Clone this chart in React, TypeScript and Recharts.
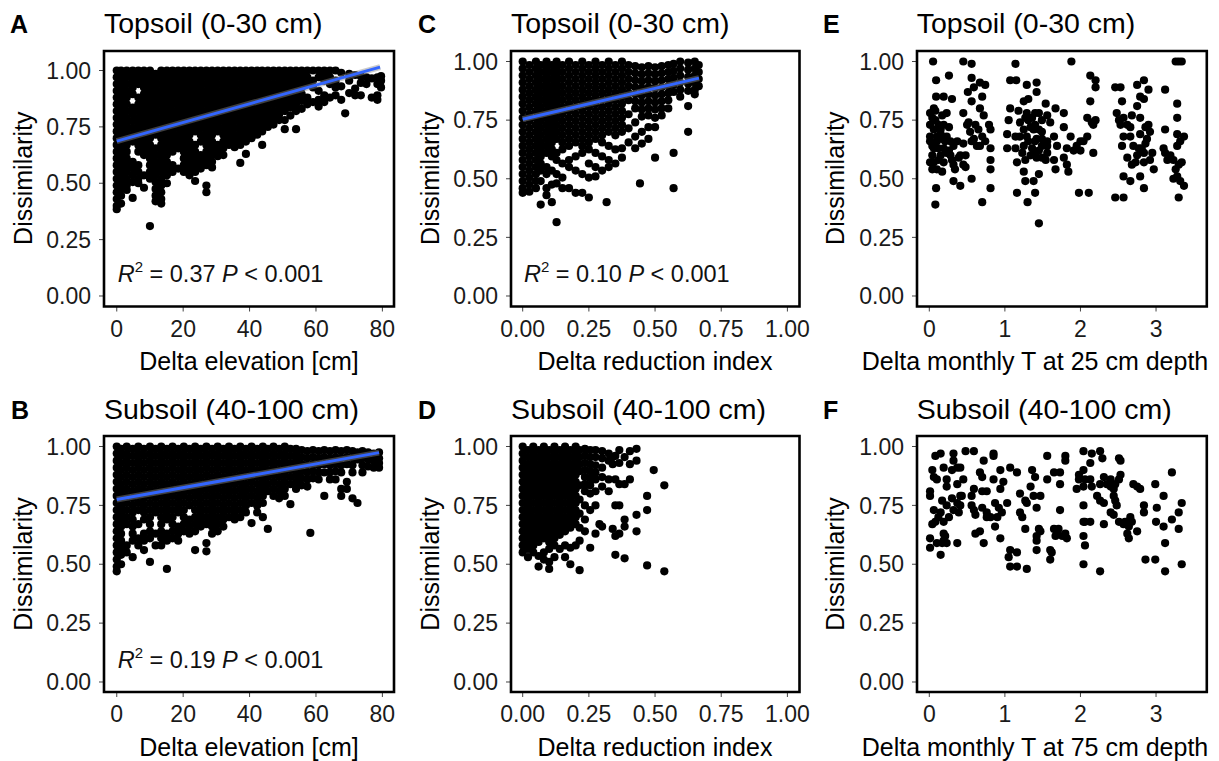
import React from 'react';
import { ScatterChart, Scatter, XAxis, YAxis, ReferenceArea, ReferenceLine } from 'recharts';

type Col = [number, number[]];
type Pt = [number, number];

// ---------- Panel A: Topsoil, Delta elevation [cm] vs Dissimilarity (columns: x, list of y) ----------
const topElevation: Col[] = [
  [0, [1, .97, .94, .91, .88, .85, .82, .79, .76, .73, .70, .67, .64, .61, .58, .55, .52, .49, .46, .43, .40, .385]],
  [1.3, [1, .985, .955, .925, .895, .865, .835, .805, .775, .745, .715, .685, .655, .625, .595, .565, .535, .505, .475, .445, .41]],
  [3, [1, .97, .94, .91, .88, .85, .82, .79, .76, .73, .70, .67, .64, .61, .58, .55, .52, .49, .47]],
  [4.8, [1, .985, .955, .925, .895, .835, .805, .775, .745, .715, .685, .595, .565, .535, .505, .435]],
  [6.5, [1, .97, .94, .88, .85, .82, .79, .76, .73, .70, .67, .64, .58, .55, .52, .50]],
  [8.2, [1, .985, .955, .925, .895, .865, .835, .805, .775, .745, .715, .685, .655, .625, .535, .48]],
  [10, [1, .97, .94, .91, .88, .85, .82, .79, .76, .73, .70, .67, .64, .61, .58, .55, .52, .31]],
  [11.7, [.985, .955, .925, .895, .865, .835, .805, .775, .745, .715, .655, .625, .595, .565, .535, .505, .475, .445, .42]],
  [13.4, [1, .97, .94, .91, .88, .85, .82, .79, .76, .73, .70, .67, .64, .61, .58, .55, .52, .49, .46, .43, .41]],
  [15.1, [1, .985, .955, .925, .895, .865, .835, .805, .775, .745, .715, .685, .655, .625, .595, .565, .535, .50]],
  [16.8, [1, .97, .94, .91, .88, .85, .82, .79, .76, .73, .70, .67, .64, .58, .55]],
  [18.5, [1, .985, .955, .925, .895, .865, .835, .805, .775, .745, .715, .685, .655, .565]],
  [20.2, [1, .97, .94, .91, .88, .85, .82, .79, .76, .73, .70, .67, .64, .61, .58, .55]],
  [21.9, [1, .985, .955, .925, .895, .865, .835, .805, .775, .745, .715, .685, .655, .625, .595, .565, .535]],
  [23.6, [1, .97, .94, .91, .88, .85, .82, .79, .76, .73, .67, .64, .61, .58, .55, .51]],
  [25.3, [1, .985, .955, .925, .895, .865, .835, .805, .775, .745, .715, .685, .625, .595, .565]],
  [27, [1, .97, .94, .91, .88, .85, .82, .79, .76, .73, .70, .67, .64, .61, .58, .49, .46]],
  [28.7, [1, .985, .955, .925, .895, .865, .835, .805, .775, .745, .715, .685, .655, .625, .595, .57]],
  [30.4, [1, .97, .94, .91, .88, .85, .82, .79, .76, .73, .67, .64, .62]],
  [32.1, [1, .985, .955, .925, .895, .865, .835, .805, .775, .745, .715, .685, .655, .625]],
  [33.8, [1, .97, .94, .91, .88, .85, .82, .79, .76, .73, .70, .67]],
  [35.5, [1, .985, .955, .925, .895, .865, .835, .805, .775, .745, .715, .685, .66]],
  [37.2, [1, .97, .94, .91, .88, .85, .82, .79, .76, .73, .70, .67, .59]],
  [38.9, [1, .985, .955, .925, .895, .865, .835, .805, .775, .745, .715, .685, .63]],
  [40.6, [1, .97, .94, .91, .88, .85, .82, .79, .76, .73, .70]],
  [42.3, [1, .985, .955, .925, .895, .865, .835, .805, .775, .745, .715]],
  [43.8, [1, .97, .94, .91, .88, .85, .82, .79, .76, .73, .67]],
  [45.5, [1, .985, .955, .925, .895, .865, .835, .805, .775, .75]],
  [47.2, [1, .97, .94, .91, .88, .85, .82, .79, .76]],
  [48.9, [1, .985, .955, .925, .895, .865, .835, .805, .78]],
  [50.6, [1, .97, .94, .91, .88, .85, .82, .78, .74]],
  [52.3, [1, .985, .955, .925, .895, .865, .835, .80]],
  [54, [1, .97, .94, .91, .88, .85, .82, .74]],
  [55.7, [1, .985, .955, .925, .895, .865, .83]],
  [57.4, [1, .97, .94, .88, .85]],
  [59.1, [1, .955, .925, .86]],
  [60.8, [1, .97, .91, .87, .84]],
  [62.5, [1, .985, .955, .89, .86]],
  [64.2, [1, .97, .94, .88]],
  [65.9, [1, .955, .925, .89]],
  [67.6, [.99, .93, .87]],
  [68.8, [.81]],
  [70, [.985, .955, .90]],
  [71.8, [.98, .92, .89]],
  [73.5, [.975, .945, .89]],
  [75.2, [.97, .94]],
  [76.8, [.965, .88]],
  [78.5, [.97, .94, .89, .87]],
  [79.6, [.975, .955, .925]],
];

// ---------- Panel B: Subsoil, Delta elevation [cm] ----------
const subElevation: Col[] = [
  [0, [1, .97, .94, .91, .88, .85, .82, .79, .76, .73, .70, .67, .64, .61, .58, .55, .52, .49, .47]],
  [1.3, [.99, .96, .93, .90, .87, .84, .81, .78, .75, .72, .69, .66, .63, .60, .57, .54, .50]],
  [3, [1, .97, .94, .91, .88, .85, .82, .79, .76, .73, .70, .67, .58, .55]],
  [4.8, [.99, .96, .93, .90, .87, .84, .81, .78, .75, .72, .69, .66, .63, .60, .53]],
  [6.5, [1, .97, .94, .91, .88, .85, .82, .79, .76, .73, .67, .61, .58]],
  [8.2, [.99, .96, .93, .90, .87, .84, .81, .78, .75, .72, .69, .63, .60, .56]],
  [10, [1, .97, .94, .91, .88, .85, .82, .79, .76, .73, .70, .67, .64, .61, .51]],
  [11.7, [.99, .96, .93, .90, .87, .84, .81, .78, .75, .72, .63, .58]],
  [13.4, [1, .97, .94, .91, .88, .85, .82, .79, .76, .73, .70, .67, .64, .61, .58]],
  [15.1, [.99, .96, .93, .90, .87, .84, .81, .78, .75, .72, .69, .63, .60, .48]],
  [16.8, [1, .97, .94, .91, .88, .85, .82, .79, .76, .73, .70, .67, .64, .61]],
  [18.5, [.99, .96, .93, .90, .87, .84, .81, .78, .75, .72, .66, .63, .60]],
  [20.2, [1, .97, .94, .91, .88, .85, .82, .79, .76, .73, .70, .67, .64]],
  [21.9, [.99, .96, .93, .90, .87, .84, .81, .78, .75, .69, .66, .63]],
  [23.6, [1, .97, .94, .91, .88, .85, .82, .79, .76, .73, .70, .67, .64, .56]],
  [25.3, [.99, .96, .93, .90, .87, .84, .81, .78, .75, .72, .69, .66]],
  [27, [1, .97, .94, .91, .88, .85, .82, .79, .76, .73, .70, .67, .59, .555]],
  [28.7, [.99, .96, .93, .90, .87, .84, .81, .78, .75, .72, .69, .66, .63]],
  [30.4, [1, .97, .94, .91, .88, .85, .82, .79, .76, .73, .70, .67, .64]],
  [32.1, [.99, .96, .93, .90, .87, .84, .81, .78, .75, .72, .69, .66]],
  [33.8, [1, .97, .94, .91, .88, .85, .82, .79, .76, .73, .70]],
  [35.5, [.99, .96, .93, .90, .87, .84, .81, .78, .75, .72, .69]],
  [37.2, [1, .97, .94, .91, .88, .85, .82, .79, .76, .73, .70]],
  [38.9, [.99, .96, .93, .90, .87, .84, .81, .78, .75, .72]],
  [40.6, [1, .97, .94, .91, .88, .85, .82, .79, .76, .675]],
  [42.3, [.99, .96, .93, .90, .87, .84, .81, .78, .75, .72]],
  [44, [1, .97, .94, .91, .88, .85, .82, .79, .76, .70]],
  [45.5, [.99, .96, .93, .90, .87, .84, .81, .65]],
  [47.2, [1, .97, .94, .91, .88, .85, .82, .79]],
  [48.9, [.99, .96, .93, .90, .87, .84, .81, .78]],
  [50.6, [1, .97, .94, .91, .88, .85, .82, .79]],
  [52.3, [.99, .96, .93, .90, .87, .84, .755]],
  [54, [.99, .97, .94, .91, .88, .85, .82]],
  [55.7, [.985, .955, .925, .895, .865, .835]],
  [57.4, [.98, .95, .92, .89, .86, .83]],
  [58.3, [.633]],
  [59.1, [.985, .955, .925, .895, .865]],
  [60.8, [.98, .95, .92, .89, .86]],
  [62.5, [.985, .955, .925, .89, .79]],
  [64.2, [.98, .95, .92, .89, .86]],
  [65.9, [.985, .955, .925, .895, .86]],
  [67.6, [.98, .95, .92, .89, .82, .79]],
  [69.3, [.985, .955, .925, .85, .82]],
  [71, [.98, .95, .92, .89, .78]],
  [72.5, [.975, .945, .76]],
  [74, [.98, .95, .92, .89]],
  [75.7, [.975, .945, .915]],
  [77.4, [.97, .94, .91]],
  [79, [.975, .95, .93, .91]],
];

// ---------- Panel C: Topsoil, Delta reduction index ----------
const topReduction: Col[] = [
  [0, [1, .97, .94, .91, .88, .85, .82, .79, .76, .73, .70, .67, .64, .61, .58, .55, .52, .49, .46, .44]],
  [.025, [.985, .955, .925, .895, .865, .835, .805, .775, .745, .715, .685, .655, .625, .595, .565, .535, .505, .475, .445]],
  [.05, [1, .97, .94, .91, .88, .85, .82, .79, .76, .73, .70, .67, .64, .61, .58, .55, .52, .49, .46]],
  [.068, [.985, .955, .925, .895, .865, .835, .805, .775, .745, .715, .685, .655, .625, .595, .565, .535, .49, .39]],
  [.09, [1, .97, .94, .91, .88, .85, .82, .79, .76, .73, .70, .67, .64, .61, .55, .52, .46, .43]],
  [.11, [.985, .955, .925, .895, .865, .835, .805, .775, .745, .715, .685, .655, .625, .595, .535, .475, .40]],
  [.128, [1, .97, .94, .91, .88, .85, .82, .79, .76, .73, .70, .67, .61, .58, .52, .48, .315]],
  [.15, [.985, .955, .925, .895, .865, .835, .805, .775, .745, .715, .685, .655, .625, .565, .505, .46]],
  [.175, [1, .97, .94, .91, .88, .85, .82, .79, .76, .73, .70, .67, .64, .58, .55, .46]],
  [.2, [.985, .955, .925, .895, .865, .835, .805, .775, .745, .715, .685, .655, .595, .535, .44]],
  [.225, [1, .97, .94, .91, .88, .85, .82, .79, .76, .73, .70, .67, .64, .61, .52, .44]],
  [.25, [.985, .955, .925, .895, .865, .835, .805, .775, .745, .715, .685, .655, .625, .565, .505, .42]],
  [.275, [1, .97, .94, .91, .88, .85, .82, .79, .76, .73, .70, .67, .61, .55, .51]],
  [.30, [.985, .955, .925, .895, .865, .835, .805, .775, .745, .715, .685, .655, .595, .535]],
  [.317, [.40]],
  [.325, [1, .97, .94, .91, .88, .85, .82, .79, .76, .73, .70, .64, .58, .55]],
  [.35, [.985, .955, .925, .895, .865, .835, .805, .775, .745, .715, .685, .625, .565]],
  [.375, [1, .97, .94, .91, .88, .85, .82, .79, .76, .73, .70, .63, .59]],
  [.40, [.985, .955, .925, .895, .865, .835, .775, .715, .655]],
  [.425, [.98, .95, .92, .89, .86, .83, .80, .74, .68, .63]],
  [.443, [.48]],
  [.45, [.975, .945, .915, .885, .855, .825, .795, .765, .70, .65]],
  [.475, [.98, .95, .92, .89, .86, .83, .80, .77, .72, .67]],
  [.50, [.975, .945, .915, .885, .855, .825, .795, .76, .72, .59]],
  [.525, [.98, .95, .92, .89, .86, .83, .80, .77]],
  [.55, [.985, .955, .925, .895, .865, .835, .80]],
  [.57, [.99, .96, .93, .90, .87, .61, .46]],
  [.595, [1, .97, .94, .91, .88, .85]],
  [.625, [.995, .965, .935, .905, .875, .81, .70]],
  [.65, [1, .97, .94, .91, .88, .86]],
  [.665, [.985, .955, .925, .895]],
];

// ---------- Panel D: Subsoil, Delta reduction index ----------
const subReduction: Col[] = [
  [0, [1, .97, .94, .91, .88, .85, .82, .79, .76, .73, .70, .67, .64, .61, .58, .55]],
  [.02, [.985, .955, .925, .895, .865, .835, .805, .775, .745, .715, .685, .655, .625, .595, .565, .53]],
  [.04, [1, .97, .94, .91, .88, .85, .82, .79, .76, .73, .70, .67, .64, .61, .58, .55]],
  [.06, [.985, .955, .925, .895, .865, .835, .805, .775, .745, .715, .685, .655, .625, .595, .535, .49]],
  [.08, [1, .97, .94, .91, .88, .85, .82, .79, .76, .73, .70, .67, .64, .61, .55, .52]],
  [.10, [.985, .955, .925, .895, .865, .835, .805, .775, .745, .715, .685, .655, .625, .595, .565, .51, .48]],
  [.12, [1, .97, .94, .91, .88, .85, .82, .79, .76, .73, .70, .67, .64, .61, .58, .53]],
  [.14, [.985, .955, .925, .895, .865, .835, .805, .775, .745, .715, .685, .655, .625, .565]],
  [.16, [1, .97, .94, .91, .88, .85, .82, .79, .76, .73, .70, .67, .64, .58, .53]],
  [.18, [.985, .955, .925, .895, .865, .835, .805, .775, .745, .715, .685, .655, .57, .50]],
  [.20, [1, .97, .94, .91, .88, .85, .82, .79, .76, .73, .70, .67, .58]],
  [.215, [.985, .955, .925, .895, .835, .775, .715, .655, .60, .475]],
  [.235, [.99, .96, .93, .90, .87, .84, .81, .75, .69, .64]],
  [.255, [.985, .955, .925, .895, .865, .835, .80, .73, .57]],
  [.275, [.985, .955, .92, .89, .86, .81, .75, .63]],
  [.29, [.67]],
  [.30, [.98, .95, .91, .87, .83, .66]],
  [.325, [.97, .94, .86, .81]],
  [.34, [.955, .925, .65]],
  [.35, [.96, .86, .75, .62, .54]],
  [.365, [.985, .93, .84, .75, .63]],
  [.385, [.955, .84, .69, .66, .525]],
  [.405, [.98, .925, .86]],
  [.43, [.99, .94, .71, .64]],
  [.47, [.79, .73, .495]],
  [.495, [.90]],
  [.535, [.835, .47]],
];

// ---------- Panel E: Topsoil, Delta monthly T at 25 cm depth ----------
const topTemperature: Pt[] = [
  [0.05, 1.0], [0.09, 0.92], [0.26, 0.94], [0.09, 0.85], [0.19, 0.85], [0.30, 0.84], [0.06, 0.80], [0.23, 0.78],
  [0.04, 0.76], [0.01, 0.73], [0.12, 0.73], [0.19, 0.73], [0.06, 0.71], [0.15, 0.69], [0.23, 0.68], [0.01, 0.66],
  [0.10, 0.66], [0.28, 0.66], [0.37, 0.66], [0.06, 0.63], [0.19, 0.63], [0.32, 0.64], [0.04, 0.60], [0.15, 0.60],
  [0.28, 0.60], [0.41, 0.60], [0.06, 0.57], [0.19, 0.57], [0.32, 0.56], [0.04, 0.54], [0.17, 0.53], [0.34, 0.54],
  [0.45, 0.56], [0.48, 0.55], [0.09, 0.46], [0.08, 0.39], [0.32, 0.49], [0.41, 0.47], [0.56, 0.50], [0.45, 0.65],
  [0.48, 0.60], [0.39, 0.59], [0.01, 0.68], [0.10, 0.68], [0.17, 0.77], [0.08, 0.75], [0.15, 0.71], [0.26, 0.72],
  [0.21, 0.66], [0.12, 0.63], [0.23, 0.61], [0.30, 0.58], [0.10, 0.54], [0.01, 0.78], [0.08, 0.79], [0.17, 0.67],
  [0.04, 0.64], [0.26, 0.62], [0.12, 0.58], [0.01, 0.57],
  [0.45, 1.0], [0.56, 0.99], [0.56, 0.93], [0.59, 0.89], [0.67, 0.91], [0.74, 0.90], [0.51, 0.87], [0.70, 0.85],
  [0.56, 0.83], [0.67, 0.80], [0.45, 0.78], [0.72, 0.77], [0.52, 0.74], [0.61, 0.73], [0.79, 0.73], [0.81, 0.71],
  [0.54, 0.70], [0.70, 0.68], [0.59, 0.67], [0.74, 0.66], [0.63, 0.64], [0.81, 0.63], [0.81, 0.58], [0.81, 0.54],
  [0.81, 0.46], [0.70, 0.40], [0.50, 0.73], [0.65, 0.71], [0.56, 0.66], [0.67, 0.64],
  [1.14, 0.99], [1.07, 0.92], [1.15, 0.92], [1.29, 0.90], [1.42, 0.91], [1.42, 0.87], [1.31, 0.84], [1.25, 0.83],
  [1.07, 0.80], [1.18, 0.79], [1.05, 0.75], [1.29, 0.78], [1.40, 0.78], [1.54, 0.82], [1.56, 0.77], [1.67, 0.80],
  [1.78, 0.78], [1.20, 0.74], [1.31, 0.75], [1.40, 0.73], [1.49, 0.75], [1.60, 0.74], [1.25, 0.71], [1.38, 0.71],
  [1.49, 0.70], [1.03, 0.69], [1.14, 0.68], [1.29, 0.68], [1.42, 0.67], [1.56, 0.66], [1.65, 0.68], [1.78, 0.72],
  [1.87, 0.68], [1.03, 0.63], [1.14, 0.63], [1.25, 0.64], [1.36, 0.63], [1.45, 0.62], [1.56, 0.61], [1.69, 0.64],
  [1.82, 0.63], [1.16, 0.57], [1.27, 0.58], [1.42, 0.59], [1.54, 0.58], [1.65, 0.58], [1.78, 0.59], [1.82, 0.56],
  [1.67, 0.54], [1.84, 0.53], [1.25, 0.53], [1.45, 0.52], [1.27, 0.49], [1.38, 0.49], [1.16, 0.44], [1.40, 0.44],
  [1.30, 0.40], [1.45, 0.31], [1.91, 0.62], [1.56, 0.64], [1.34, 0.60], [1.49, 0.64], [1.27, 0.76], [1.36, 0.76],
  [1.45, 0.78], [1.34, 0.72], [1.45, 0.71], [1.31, 0.66], [1.40, 0.66], [1.49, 0.67], [1.40, 0.61], [1.49, 0.59],
  [1.20, 0.68], [1.23, 0.61],
  [1.88, 1.0], [2.13, 0.94], [2.20, 0.92], [2.20, 0.89], [2.13, 0.83], [2.09, 0.76], [2.20, 0.75], [2.17, 0.73],
  [2.00, 0.66], [1.95, 0.64], [2.09, 0.68], [2.00, 0.62], [2.17, 0.61], [1.98, 0.44], [2.11, 0.44], [2.15, 0.74],
  [2.04, 0.66],
  [2.46, 0.89], [2.53, 0.89], [2.75, 0.90], [2.84, 0.92], [2.90, 0.88], [2.79, 0.85], [2.55, 0.83], [2.75, 0.81],
  [2.84, 0.84], [2.48, 0.78], [2.57, 0.76], [2.68, 0.77], [2.79, 0.76], [2.90, 0.73], [2.92, 0.70], [2.62, 0.73],
  [2.57, 0.68], [2.66, 0.68], [2.79, 0.69], [2.88, 0.67], [2.55, 0.64], [2.70, 0.64], [2.81, 0.63], [2.95, 0.61],
  [2.62, 0.59], [2.73, 0.57], [2.84, 0.57], [2.92, 0.58], [2.97, 0.54], [2.57, 0.51], [2.66, 0.49], [2.79, 0.51],
  [2.84, 0.46], [2.46, 0.42], [2.57, 0.42], [2.53, 0.73], [2.75, 0.60], [2.84, 0.61], [2.51, 0.75], [2.66, 0.72],
  [2.86, 0.65], [2.77, 0.63], [2.68, 0.56], [2.86, 0.72],
  [3.26, 1.0], [3.30, 1.0], [3.34, 1.0], [3.12, 0.88], [3.28, 0.82], [3.28, 0.76], [3.12, 0.71], [3.28, 0.69],
  [3.37, 0.68], [3.32, 0.66], [3.28, 0.64], [3.12, 0.61], [3.19, 0.60], [3.23, 0.58], [3.34, 0.57], [3.30, 0.56],
  [3.26, 0.54], [3.28, 0.51], [3.23, 0.50], [3.32, 0.49], [3.37, 0.47], [3.30, 0.42], [3.15, 0.58], [3.10, 0.63],
];

// ---------- Panel F: Subsoil, Delta monthly T at 75 cm depth ----------
const subTemperature: Pt[] = [
  [0.08, 0.96], [0.15, 0.97], [0.32, 0.97], [0.32, 0.94], [0.48, 0.98], [0.59, 0.98], [0.72, 0.94], [0.85, 0.97],
  [0.85, 0.96], [0.04, 0.90], [0.06, 0.87], [0.19, 0.91], [0.30, 0.90], [0.41, 0.91], [0.45, 0.86], [0.23, 0.86],
  [0.37, 0.84], [0.67, 0.89], [0.70, 0.87], [0.01, 0.81], [0.01, 0.79], [0.17, 0.77], [0.23, 0.83], [0.30, 0.78],
  [0.43, 0.79], [0.37, 0.76], [0.59, 0.82], [0.56, 0.79], [0.70, 0.81], [0.76, 0.81], [0.06, 0.73], [0.15, 0.72],
  [0.23, 0.75], [0.26, 0.70], [0.39, 0.72], [0.41, 0.75], [0.56, 0.75], [0.59, 0.73], [0.61, 0.71], [0.70, 0.74],
  [0.76, 0.72], [0.81, 0.70], [0.04, 0.67], [0.08, 0.68], [0.19, 0.68], [0.12, 0.70], [0.01, 0.61], [0.10, 0.59],
  [0.17, 0.59], [0.21, 0.62], [0.19, 0.60], [0.37, 0.59], [0.15, 0.54], [0.01, 0.57], [0.61, 0.63], [0.67, 0.64],
  [0.72, 0.59], [0.87, 0.66], [0.90, 0.70], [0.10, 0.86], [0.37, 0.91], [0.32, 0.73], [0.41, 0.79], [0.76, 0.70],
  [0.19, 0.63], [0.23, 0.59],
  [0.85, 0.86], [0.94, 0.90], [0.94, 0.82], [0.98, 0.85], [1.07, 0.91], [1.16, 0.89], [0.87, 0.76], [0.92, 0.74],
  [1.03, 0.76], [0.96, 0.72], [0.94, 0.61], [1.07, 0.56], [1.05, 0.53], [1.16, 0.55], [1.07, 0.49], [1.16, 0.49],
  [1.29, 0.48], [1.20, 0.80], [1.27, 0.77], [1.34, 0.83], [1.36, 0.90], [1.40, 0.87], [1.29, 0.76], [1.38, 0.79],
  [1.47, 0.79], [1.42, 0.74], [1.20, 0.72], [1.23, 0.70], [1.27, 0.65], [1.56, 0.96], [1.56, 0.86], [1.65, 0.89],
  [1.73, 0.89], [1.73, 0.84], [1.80, 0.96], [1.80, 0.94], [1.45, 0.65], [1.42, 0.62], [1.42, 0.60], [1.47, 0.64],
  [1.42, 0.56], [1.60, 0.56], [1.60, 0.52], [1.62, 0.55], [1.69, 0.63], [1.71, 0.65], [1.67, 0.62], [1.80, 0.63],
  [1.82, 0.61], [1.73, 0.73], [1.76, 0.62], [1.65, 0.65],
  [2.04, 0.98], [2.15, 0.97], [2.26, 0.98], [2.29, 0.95], [2.13, 0.93], [2.04, 0.90], [1.98, 0.88], [2.13, 0.86],
  [2.15, 0.83], [1.95, 0.82], [2.04, 0.83], [2.06, 0.86], [2.31, 0.87], [2.26, 0.84], [2.40, 0.86], [2.40, 0.83],
  [2.46, 0.84], [2.51, 0.86], [2.53, 0.88], [2.51, 0.95], [2.53, 0.94], [2.22, 0.79], [2.26, 0.77], [2.31, 0.76],
  [2.44, 0.82], [2.44, 0.79], [2.48, 0.75], [2.40, 0.72], [2.44, 0.71], [2.04, 0.75], [2.06, 0.68], [2.13, 0.68],
  [2.31, 0.67], [2.51, 0.68], [2.57, 0.67], [2.64, 0.66], [2.62, 0.63], [2.66, 0.70], [2.68, 0.68], [2.75, 0.64],
  [2.64, 0.61], [2.70, 0.84], [2.75, 0.83], [2.79, 0.82], [2.84, 0.75], [2.84, 0.72], [2.99, 0.84], [3.01, 0.74],
  [3.10, 0.79], [3.21, 0.89], [3.30, 0.72], [3.34, 0.76], [3.21, 0.69], [3.10, 0.66], [3.00, 0.68], [3.30, 0.65],
  [3.12, 0.59], [2.04, 0.62], [2.06, 0.58], [2.04, 0.50], [2.26, 0.47], [2.86, 0.52], [2.99, 0.52], [3.12, 0.47],
  [3.34, 0.50], [1.98, 0.86], [2.35, 0.84], [2.46, 0.77], [2.59, 0.68], [2.04, 0.68],
];

// ---------- Regression lines (x, fitted dissimilarity) ----------
const fitTopElevation = [{ x: 0, y: 0.687 }, { x: 79.3, y: 1.015 }];
const fitSubElevation = [{ x: 0, y: 0.775 }, { x: 79, y: 0.974 }];
const fitTopReduction = [{ x: 0, y: 0.754 }, { x: 0.666, y: 0.929 }];

// ---------- Ticks ----------
const yTicks = [0, 0.25, 0.5, 0.75, 1];
const elevationTicks = [0, 20, 40, 60, 80];
const reductionTicks = [0, 0.25, 0.5, 0.75, 1];
const temperatureTicks = [0, 1, 2, 3];

const FONT = '"Liberation Sans", Arial, Helvetica, sans-serif';

const fromCols = (cols: Col[]) => cols.flatMap(([x, ys]) => ys.map((y) => ({ x, y })));
const fromPts = (pts: Pt[]) => pts.map(([x, y]) => ({ x, y }));

const Dot = (props: any) => <circle cx={props.cx} cy={props.cy} r={4.1} fill="#000" />;

type Box = { L: number; T: number; R: number; B: number };

function Panel({
  data, box, xDomain, yDomain, xTicks, xFmt, fit,
}: {
  data: { x: number; y: number }[]; box: Box; xDomain: [number, number]; yDomain: [number, number];
  xTicks: number[]; xFmt: (v: number) => string; fit?: { x: number; y: number }[];
}) {
  const W = 80, XH = 50, PAD = 8, RIGHT = 34;
  const width = box.R - box.L + W + RIGHT;
  const height = box.B - box.T + PAD + XH;
  const tickStyle = { fill: '#1a1a1a', fontSize: 23, fontFamily: FONT };
  return (
    <div style={{ position: 'absolute', left: box.L - W, top: box.T - PAD }}>
      <ScatterChart width={width} height={height} margin={{ top: PAD, right: RIGHT, bottom: 0, left: 0 }}>
        <XAxis type="number" dataKey="x" domain={xDomain} ticks={xTicks} tickFormatter={xFmt} allowDataOverflow
          axisLine={false} tickLine={{ stroke: '#444' }} tickSize={5} tickMargin={9} height={XH} tick={tickStyle} interval={0} />
        <YAxis type="number" dataKey="y" domain={yDomain} ticks={yTicks} tickFormatter={(v: number) => v.toFixed(2)} allowDataOverflow
          axisLine={false} tickLine={{ stroke: '#444' }} tickSize={5} tickMargin={8} width={W} tick={tickStyle} interval={0} />
        <Scatter data={data} isAnimationActive={false} shape={Dot} />
        {fit && <ReferenceLine segment={fit} stroke="#8c8c8c" strokeOpacity={0.45} strokeWidth={6} ifOverflow="visible" zIndex={900} />}
        {fit && <ReferenceLine segment={fit} stroke="#3366FF" strokeWidth={3} ifOverflow="visible" zIndex={901} />}
        <ReferenceArea x1={xDomain[0]} x2={xDomain[1]} y1={yDomain[0]} y2={yDomain[1]} fill="none" fillOpacity={0}
          stroke="#000" strokeWidth={2.6} ifOverflow="visible" zIndex={950} />
      </ScatterChart>
    </div>
  );
}

const boxA: Box = { L: 104, T: 50.5, R: 394, B: 306 };
const boxC: Box = { L: 511, T: 50.5, R: 799.5, B: 306 };
const boxE: Box = { L: 916.7, T: 50.5, R: 1206.5, B: 306 };
const boxB: Box = { L: 104, T: 436, R: 394, B: 692 };
const boxD: Box = { L: 511, T: 436, R: 799.5, B: 692 };
const boxF: Box = { L: 916.7, T: 436, R: 1206.5, B: 692 };

const xElev: [number, number] = [-3.84, 83.5];
const xRed: [number, number] = [-0.0442, 1.0457];
const xTemp: [number, number] = [-0.1628, 3.6717];
const yA: [number, number] = [-0.0466, 1.0865];
const yTop: [number, number] = [-0.0448, 1.0448];
const yBottom: [number, number] = [-0.0425, 1.0446];

const fmtInt = (v: number) => String(v);
const fmt2 = (v: number) => v.toFixed(2);

function Stat({ x, y, r2 }: { x: number; y: number; r2: string }) {
  return (
    <text x={x} y={y} fontSize={23.5} fontFamily={FONT} fill="#111">
      <tspan fontStyle="italic">R</tspan>
      <tspan dy={-10} fontSize={15}>2</tspan>
      <tspan dy={10}>{` = ${r2} `}</tspan>
      <tspan fontStyle="italic">P</tspan>
      <tspan>{' < 0.001'}</tspan>
    </text>
  );
}

export default function App() {
  const panels = [
    { L: boxA, letter: 'A', title: 'Topsoil (0-30 cm)', xl: 'Delta elevation [cm]', xc: 249 },
    { L: boxC, letter: 'C', title: 'Topsoil (0-30 cm)', xl: 'Delta reduction index', xc: 655 },
    { L: boxE, letter: 'E', title: 'Topsoil (0-30 cm)', xl: 'Delta monthly T at 25 cm depth', xc: 1035 },
    { L: boxB, letter: 'B', title: 'Subsoil (40-100 cm)', xl: 'Delta elevation [cm]', xc: 249 },
    { L: boxD, letter: 'D', title: 'Subsoil (40-100 cm)', xl: 'Delta reduction index', xc: 655 },
    { L: boxF, letter: 'F', title: 'Subsoil (40-100 cm)', xl: 'Delta monthly T at 75 cm depth', xc: 1035 },
  ];
  const letterX: Record<string, number> = { A: 10, B: 11, C: 418, D: 418, E: 823, F: 823 };
  return (
    <div style={{ position: 'absolute', left: 0, top: 0, width: 1219, height: 761, background: '#fff' }}>
      <Panel data={fromCols(topElevation)} box={boxA} xDomain={xElev} yDomain={yA} xTicks={elevationTicks} xFmt={fmtInt} fit={fitTopElevation} />
      <Panel data={fromCols(topReduction)} box={boxC} xDomain={xRed} yDomain={yTop} xTicks={reductionTicks} xFmt={fmt2} fit={fitTopReduction} />
      <Panel data={fromPts(topTemperature)} box={boxE} xDomain={xTemp} yDomain={yTop} xTicks={temperatureTicks} xFmt={fmtInt} />
      <Panel data={fromCols(subElevation)} box={boxB} xDomain={xElev} yDomain={yBottom} xTicks={elevationTicks} xFmt={fmtInt} fit={fitSubElevation} />
      <Panel data={fromCols(subReduction)} box={boxD} xDomain={xRed} yDomain={yBottom} xTicks={reductionTicks} xFmt={fmt2} />
      <Panel data={fromPts(subTemperature)} box={boxF} xDomain={xTemp} yDomain={yBottom} xTicks={temperatureTicks} xFmt={fmtInt} />
      <svg width={1219} height={761} style={{ position: 'absolute', left: 0, top: 0, pointerEvents: 'none' }}>
        {panels.map((p) => {
          const b = p.L;
          const titleY = b.T - 17.5;
          const xlY = b.B + 64;
          const cy = (b.T + b.B) / 2;
          const ylX = b.L - 72.5;
          return (
            <g key={p.letter}>
              <text x={letterX[p.letter]} y={titleY} fontSize={25} fontWeight="bold" fontFamily={FONT} fill="#000">{p.letter}</text>
              <text x={b.L} y={titleY} fontSize={28.5} fontFamily={FONT} fill="#000">{p.title}</text>
              <text x={p.xc} y={xlY} fontSize={25} fontFamily={FONT} fill="#000" textAnchor="middle">{p.xl}</text>
              <text x={ylX} y={cy} fontSize={25} fontFamily={FONT} fill="#000" textAnchor="middle"
                transform={`rotate(-90 ${ylX} ${cy})`}>Dissimilarity</text>
            </g>
          );
        })}
        <Stat x={117.7} y={282.3} r2="0.37" />
        <Stat x={524} y={282.3} r2="0.10" />
        <Stat x={117.7} y={668} r2="0.19" />
      </svg>
    </div>
  );
}
